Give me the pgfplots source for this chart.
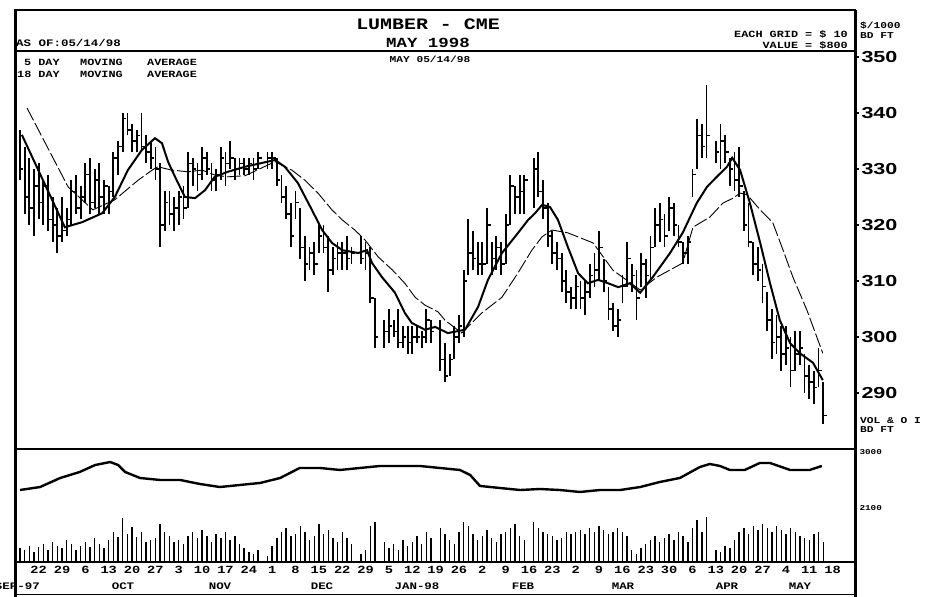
\documentclass[border=0pt]{standalone}
\usepackage{pgfplots}
\pgfplotsset{compat=1.18}
\usepackage{pgfplotstable}
\usepackage{fontspec}
\setmainfont{Liberation Mono}
\newfontfamily\dm{Liberation Mono}[FakeStretch=1.25]
\newfontfamily\wsans{Liberation Sans}[FakeStretch=1.35]
\pgfdeclareplotmark{closetick}{\pgfpathmoveto{\pgfpointorigin}\pgfpathlineto{\pgfpoint{3.5bp}{0pt}}\pgfusepathqstroke}

\pgfplotstableread{
i H L C
-4 337 328 330
-3 334 322 325
-2 332 320 323
-1 330 318 327
0 331 321 324
1 328 320 327
2 329 319 321
3 325 317 320
4 323 315 318
5 325 317 319
6 323 318 321
7 328 320 326
8 329 322 323
9 327 321 325
10 331 324 329
11 332 322 324
12 330 323 328
13 331 322 325
14 328 322 327
15 327 322 326
16 333 325 332
17 335 329 334
18 340 333 339
19 340 336 337
20 338 333 335
21 337 333 336
22 340 333 334
23 336 331 333
24 335 330 332
25 334 328 330
26 331 316 320
27 326 319 324
28 326 320 322
29 325 319 323
30 326 320 325
31 327 321 323
32 333 323 331
33 332 327 330
34 331 326 329
35 334 328 332
36 333 329 330
37 331 326 328
38 330 326 329
39 334 328 332
40 333 327 331
41 335 330 332
42 332 328 330
43 332 329 331
44 332 329 330
45 332 329 331
46 332 328 330
47 333 330 332
49 333 330 332
50 333 330 332
51 332 327 328
52 329 324 325
53 327 321 322
54 324 316 318
55 326 321 324
56 323 314 316
57 318 310 313
58 316 312 315
59 317 311 313
60 320 315 318
61 320 315 316
62 318 308 312
63 316 311 314
64 317 312 315
65 317 312 315
66 318 312 314
67 316 313 315
69 318 313 314
70 317 312 315
71 316 306 307
72 307 298 300
74 303 298 301
75 305 299 302
76 303 300 301
77 305 298 299
78 302 298 300
79 302 297 299
80 302 297 300
81 302 299 300
82 301 298 300
83 305 299 303
84 303 299 301
86 303 294 296
87 299 292 293
88 297 293 296
89 302 296 300
90 304 299 302
91 312 300 310
92 321 311 315
93 319 312 314
94 317 311 313
95 317 311 313
96 323 313 320
97 317 311 314
98 318 312 316
99 317 311 313
100 322 313 320
101 329 320 327
102 327 322 325
103 329 322 326
104 329 322 328
106 332 323 330
107 333 325 326
108 328 321 323
109 324 316 318
110 319 313 315
111 317 312 314
112 315 308 310
113 312 306 308
114 309 305 307
115 311 305 309
116 310 305 307
117 310 304 308
118 313 307 311
119 315 309 312
120 319 310 316
121 314 308 310
122 309 303 305
123 306 301 302
124 305 300 303
125 311 306 309
126 317 309 314
127 313 308 311
128 312 303 307
129 315 309 313
130 314 307 311
131 318 310 316
132 323 316 320
133 324 317 321
134 322 316 318
135 325 319 323
136 324 318 320
137 320 316 317
138 317 313 315
139 318 313 317
140 330 325 329
141 339 330 336
142 338 332 334
143 345 332 336
145 335 331 333
146 338 330 335
147 336 331 333
148 332 327 330
149 333 326 328
150 334 325 327
151 326 319 320
152 324 316 317
153 317 311 313
154 316 310 312
155 313 306 309
156 308 301 303
157 305 296 299
158 304 297 300
159 302 294 297
160 302 295 298
161 300 291 294
162 301 294 297
163 301 295 298
164 297 290 293
165 295 289 292
166 294 288 291
167 298 291 294
168 292 284.5 286
}\bars

\pgfplotstableread{
i p
-3.6 336.1
5.6 319.6
9.3 320.5
13.6 322.1
16.3 325.0
19.1 329.8
22.1 333.4
24.9 335.5
26.4 334.6
27.7 331.3
29.2 328.6
31.3 325.0
33.5 324.8
35.6 326.2
37.7 328.6
40.5 329.5
44.2 330.4
50.6 331.6
52.7 330.4
55.5 327.5
58.5 322.7
60.7 319.1
62.8 316.8
65.0 315.5
68.4 315.0
70.3 315.5
71.4 313.2
73.5 310.7
76.3 307.9
78.4 304.3
79.9 302.5
82.7 301.3
84.9 301.8
87.6 300.7
91.3 301.3
94.1 305.4
96.2 310.2
99.2 315.0
102.0 317.9
104.8 320.9
106.3 322.1
107.8 323.6
109.5 323.2
111.2 320.9
113.3 316.1
115.5 311.4
117.6 309.6
119.8 310.2
121.9 309.6
124.1 308.9
126.6 309.6
128.8 307.9
131.5 310.7
135.2 315.0
137.9 318.6
140.9 323.9
143.1 326.8
145.2 328.6
147.4 330.4
148.5 332.0
150.2 329.8
152.3 323.9
154.5 316.8
156.6 309.6
158.7 303.0
160.9 298.9
163.0 297.1
165.8 295.4
167.9 292.3
}\mafive

\pgfplotstableread{
i p
-2.5 340.9
6.3 326.8
11.6 322.7
16.3 324.5
21.3 328.0
24.3 329.8
25.5 330.4
28.5 329.8
32.0 329.5
35.0 329.8
37.8 328.9
40.5 328.6
44.2 328.8
50.6 331.3
54.2 329.8
57.0 328.0
59.8 325.7
62.8 322.7
65.0 320.9
67.7 319.1
69.9 317.3
72.7 314.3
75.7 312.0
78.4 309.6
80.6 307.1
82.7 305.7
85.5 304.5
87.0 303.0
90.6 300.7
94.9 304.3
99.2 307.1
102.6 311.4
105.6 315.5
107.8 317.9
109.9 319.1
113.3 318.6
118.7 316.8
123.0 311.9
128.8 308.4
132.4 310.7
137.9 313.2
140.1 319.6
143.7 321.4
146.5 323.9
148.7 324.8
150.2 325.7
151.7 325.4
154.5 322.7
157.2 320.4
159.4 315.5
161.5 310.7
164.5 304.8
167.9 297.1
}\maeight

\pgfplotstableread{
i v
-4 1400
-3 1200
-2 1600
-1 1000
0 1500
1 1800
2 1200
3 2000
4 1600
5 1400
6 2200
7 1800
8 1200
9 1600
10 2000
11 1500
12 2400
13 1800
14 1400
15 2200
16 3000
17 2500
18 4400
19 2800
20 3500
21 2500
22 3000
23 2000
24 2200
25 2400
26 3800
27 3000
28 2600
29 2000
30 2200
31 1800
32 2600
33 3000
34 2400
35 3200
36 2600
37 2000
38 2800
39 2400
40 3000
41 2200
42 2600
43 1800
44 1400
45 1000
46 800
47 1200
49 600
50 1600
51 2400
52 3000
53 3400
54 2600
55 2800
56 3600
57 3000
58 2200
59 2600
60 3800
61 2800
62 3200
63 2400
64 2000
65 3000
66 2400
67 1800
69 800
70 1200
71 3600
72 4000
74 2000
75 1400
76 1800
77 1200
78 2200
79 1600
80 2000
81 2600
82 1800
83 3000
84 2400
86 3400
87 2800
88 2200
89 1800
90 3000
91 4000
92 3600
93 2800
94 2200
95 2600
96 3200
97 2400
98 2000
99 2800
100 3000
101 3400
102 3800
103 2600
104 2200
106 4000
107 3400
108 3000
109 2800
110 2600
111 2200
112 2400
113 3000
114 2800
115 3000
116 3200
117 2800
118 3400
119 3000
120 3600
121 3200
122 2800
123 3000
124 3400
125 3000
126 2600
127 1200
128 800
129 1400
130 1800
131 2200
132 2600
133 2000
134 2400
135 2800
136 2200
137 3000
138 2600
139 2000
140 3400
141 4200
142 3000
143 4500
145 1200
146 1000
147 1600
148 1400
149 2200
150 3000
151 3400
152 2800
153 3600
154 3200
155 3800
156 3400
157 3000
158 3600
159 3200
160 2800
161 3400
162 3000
163 2600
164 2400
165 2200
166 2800
167 3000
168 2000
}\vol

\pgfplotstableread{
i oi
-4 2389
0.3 2437
4.6 2582
8.8 2679
12.1 2791
15.3 2839
17.0 2791
18.5 2679
21.7 2582
26.0 2550
30.3 2550
34.5 2486
38.8 2437
43.1 2470
47.4 2502
51.7 2582
55.9 2743
60.2 2743
64.5 2711
68.8 2743
73.1 2775
77.4 2775
81.6 2775
85.9 2743
90.2 2711
92.4 2630
94.5 2454
98.8 2421
103.1 2389
107.3 2405
111.6 2389
115.9 2357
120.2 2389
124.5 2389
128.8 2437
133.0 2518
137.3 2582
141.6 2759
143.7 2807
145.9 2775
148.0 2711
151.2 2711
154.4 2823
156.6 2823
160.9 2711
165.1 2711
167.7 2775
}\oi

\begin{document}
\begin{tikzpicture}
\path[use as bounding box] (0,0) rectangle (928bp,597bp);

% ---------- price panel ----------
\begin{axis}[
  at={(15bp,148bp)}, anchor=south west, scale only axis,
  width=840bp, height=398bp,
  xmin=-5.07, xmax=174.8, ymin=280, ymax=351.07,
  axis line style={line width=1.5bp, black},
  xtick=\empty,
  ytick={290,300,310,320,330,340,350},
  yticklabels={290,300,310,320,330,340,350},
  ytick pos=right, yticklabel pos=right,
  tick align=outside, major tick length=4bp,
  tick style={line width=1.2bp, black},
  yticklabel style={font=\wsans\bfseries\fontsize{16}{16}\selectfont, anchor=west, xshift=-1bp},
]
\addplot[draw=none, no markers,
  error bars/.cd, y dir=plus, y explicit, error mark=none,
  error bar style={draw=black, solid, line width=1.8bp}]
  table[x=i, y=L, y error expr=\thisrow{H}-\thisrow{L}] {\bars};
\addplot[black, only marks, mark=closetick, mark options={line width=1.6bp}]
  table[x=i, y=C] {\bars};
\addplot[black, line width=2bp] table[x=i, y=p] {\mafive};
\addplot[black, line width=0.9bp, dash pattern=on 14bp off 3bp] table[x=i, y=p] {\maeight};
\end{axis}

% ---------- volume / open interest panel ----------
\begin{axis}[
  at={(15bp,35bp)}, anchor=south west, scale only axis,
  width=840bp, height=113bp,
  xmin=-5.07, xmax=174.8, ymin=0, ymax=11300,
  hide axis,
]
\addplot[black, ycomb, line width=1.4bp] table[x=i, y=v] {\vol};
\end{axis}

\begin{axis}[
  at={(15bp,35bp)}, anchor=south west, scale only axis,
  width=840bp, height=113bp,
  xmin=-5.07, xmax=174.8, ymin=1232, ymax=3048,
  axis line style={line width=1.5bp, black},
  xtick={0,5,...,170},
  xticklabels={22,29,6,13,20,27,3,10,17,24,1,8,15,22,29,5,12,19,26,2,9,16,23,2,9,16,23,30,6,13,20,27,4,11,18},
  xtick pos=bottom, major tick length=0bp,
  xticklabel style={font=\dm\bfseries\fontsize{11}{11}\selectfont, anchor=north, yshift=-1bp},
  ytick={2100,3000}, yticklabels={2100,3000},
  ytick pos=right, yticklabel pos=right,
  yticklabel style={font=\dm\bfseries\fontsize{7.5}{7.5}\selectfont, anchor=west, xshift=1bp},
]
\addplot[black, line width=2.4bp] table[x=i, y=oi] {\oi};
\end{axis}

% ---------- frame ----------
\draw[line width=3bp] (15bp,0bp) -- (15bp,587bp);
\draw[line width=3bp] (855bp,0bp) -- (855bp,587bp);
\draw[line width=1.6bp] (14bp,587bp) -- (856bp,587bp);
\draw[line width=1bp] (15bp,2bp) -- (855bp,2bp);

% ---------- texts ----------
\node[font=\dm\bfseries\fontsize{16}{16}\selectfont] at (428bp,573bp) {LUMBER - CME};
\node[font=\dm\bfseries\fontsize{14}{14}\selectfont] at (428bp,554bp) {MAY 1998};
\node[font=\dm\bfseries\fontsize{10}{10}\selectfont, anchor=west, inner sep=0pt] at (16bp,554bp) {AS OF:05/14/98};
\node[font=\dm\bfseries\fontsize{9}{9}\selectfont, inner sep=0pt] at (430bp,538bp) {MAY 05/14/98};
\begin{scope}[every node/.style={font=\dm\bfseries\fontsize{9.5}{9.5}\selectfont, anchor=west, inner sep=0pt}]
\node at (24bp,535bp) {5 DAY};
\node at (80bp,535bp) {MOVING};
\node at (147bp,535bp) {AVERAGE};
\node at (17bp,523bp) {18 DAY};
\node at (80bp,523bp) {MOVING};
\node at (147bp,523bp) {AVERAGE};
\end{scope}
\begin{scope}[every node/.style={font=\dm\bfseries\fontsize{9.5}{9.5}\selectfont, anchor=east, inner sep=0pt}]
\node at (848bp,563bp) {EACH GRID = \$ 10};
\node at (848bp,552bp) {VALUE = \$800};
\end{scope}
\begin{scope}[every node/.style={font=\dm\bfseries\fontsize{9}{9}\selectfont, anchor=west, inner sep=0pt}]
\node at (860bp,571bp) {\$/1000};
\node at (860bp,561bp) {BD FT};
\node at (860bp,176bp) {VOL \& O I};
\node at (860bp,167bp) {BD FT};
\end{scope}
\begin{scope}[every node/.style={font=\dm\bfseries\fontsize{10}{10}\selectfont, inner sep=0pt}]
\node[anchor=east] at (40bp,11bp) {SEP-97};
\node at (123bp,11bp) {OCT};
\node at (220bp,11bp) {NOV};
\node at (322bp,11bp) {DEC};
\node at (417bp,11bp) {JAN-98};
\node at (523bp,11bp) {FEB};
\node at (623bp,11bp) {MAR};
\node at (727bp,11bp) {APR};
\node at (800bp,11bp) {MAY};
\end{scope}
\end{tikzpicture}
\end{document}
